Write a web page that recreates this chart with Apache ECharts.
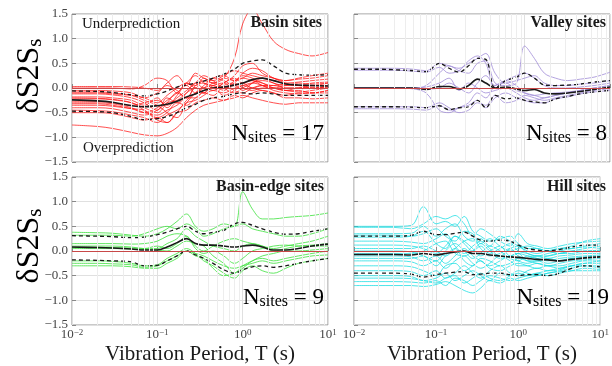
<!DOCTYPE html>
<html><head><meta charset="utf-8">
<script src="https://cdn.jsdelivr.net/npm/echarts@6/dist/echarts.min.js"></script>
<style>html,body{margin:0;padding:0;background:#fff}#c{width:612px;height:366px}</style>
</head><body><div id="c"></div>
<script>
// Periods (s)
const periods = [0.01,0.02,0.03,0.05,0.07,0.1,0.13,0.17,0.22,0.28,0.35,0.45,0.6,0.8,1.0,1.3,1.7,2.3,3.2,4.5,6.5,10];
const yTicks = [-1.5,-1.0,-0.5,0.0,0.5,1.0,1.5];

// Basin sites (17)
const basinSites = [
 [0.03,0.03,0.03,0.02,0.0,-0.05,0.1,0.25,0.05,0.3,0.2,0.15,0.25,0.35,0.3,0.25,0.2,0.15,0.1,0.12,0.15,0.18],
 [0.0,0.0,0.0,-0.02,0.05,0.2,0.15,-0.1,0.1,0.0,0.2,0.1,0.2,0.15,0.3,0.4,0.35,0.2,0.15,0.2,0.25,0.3],
 [-0.05,-0.05,-0.06,-0.1,-0.2,-0.1,0.05,-0.05,-0.2,0.05,0.1,0.0,0.1,0.25,0.45,0.5,0.3,0.2,0.1,0.05,0.05,0.1],
 [-0.1,-0.1,-0.12,-0.15,-0.2,-0.3,-0.15,0.0,0.1,0.05,0.15,0.1,0.2,0.6,1.3,1.6,1.3,0.95,0.78,0.7,0.65,0.72],
 [-0.12,-0.12,-0.14,-0.2,-0.3,-0.45,-0.2,-0.3,-0.1,0.1,0.0,0.2,0.15,0.05,0.1,0.0,0.05,0.05,0.0,0.0,0.02,0.0],
 [-0.18,-0.18,-0.2,-0.25,-0.35,-0.2,-0.4,-0.15,0.05,-0.1,0.0,0.05,-0.05,0.15,0.2,0.15,0.1,0.0,-0.05,-0.05,-0.1,-0.05],
 [-0.22,-0.22,-0.24,-0.3,-0.4,-0.5,-0.3,-0.1,-0.2,0.0,-0.1,0.1,0.0,0.05,-0.05,0.1,0.2,0.1,0.05,0.05,0.0,0.05],
 [-0.27,-0.27,-0.3,-0.35,-0.3,-0.25,-0.35,-0.2,-0.05,0.1,0.25,0.15,0.0,-0.1,0.0,0.1,0.15,0.1,0.0,0.0,0.05,0.05],
 [-0.3,-0.3,-0.32,-0.4,-0.5,-0.55,-0.45,-0.35,-0.2,-0.2,-0.05,0.0,-0.15,-0.05,0.05,0.0,-0.05,-0.1,-0.15,-0.1,-0.1,-0.05],
 [-0.35,-0.35,-0.37,-0.42,-0.45,-0.6,-0.5,-0.3,-0.35,-0.2,-0.1,-0.15,0.05,0.1,0.0,-0.05,0.0,0.0,-0.05,0.0,0.0,0.02],
 [-0.45,-0.46,-0.48,-0.55,-0.6,-0.7,-0.55,-0.45,-0.3,-0.25,-0.15,-0.05,-0.1,0.0,0.05,0.1,0.05,-0.05,-0.1,-0.12,-0.1,-0.1],
 [-0.5,-0.5,-0.52,-0.6,-0.65,-0.6,-0.7,-0.5,-0.45,-0.3,-0.25,-0.2,-0.25,-0.15,-0.2,-0.1,-0.05,-0.1,-0.2,-0.2,-0.22,-0.2],
 [-0.75,-0.78,-0.82,-0.9,-0.95,-0.97,-0.92,-0.8,-0.6,-0.45,-0.35,-0.3,-0.25,-0.2,-0.15,-0.2,-0.25,-0.3,-0.33,-0.3,-0.3,-0.3],
 [-0.08,-0.08,-0.1,-0.15,-0.25,-0.35,-0.5,-0.6,-0.3,-0.1,0.05,0.2,0.25,0.15,0.2,0.3,0.25,0.2,0.15,0.18,0.2,0.25],
 [-0.2,-0.21,-0.23,-0.3,-0.45,-0.65,-0.7,-0.5,-0.25,-0.1,0.0,-0.05,0.1,0.2,0.1,0.15,0.05,0.0,0.05,0.1,0.08,0.1],
 [-0.4,-0.4,-0.42,-0.5,-0.55,-0.45,-0.3,-0.25,-0.1,0.0,-0.1,0.05,0.1,-0.05,-0.1,0.0,0.05,0.0,-0.05,-0.08,-0.05,0.0],
 [-0.32,-0.32,-0.35,-0.42,-0.5,-0.4,-0.25,-0.1,0.1,0.25,0.1,0.05,0.0,0.1,0.25,0.2,0.1,0.05,0.08,0.05,0.1,0.12]
];
const basinMean  = [-0.24,-0.26,-0.29,-0.36,-0.38,-0.36,-0.33,-0.27,-0.18,-0.12,-0.05,0.0,0.02,0.06,0.1,0.17,0.2,0.15,0.08,0.06,0.05,0.04];
const basinUpper = [-0.06,-0.07,-0.09,-0.14,-0.16,-0.12,-0.06,0.02,0.06,0.1,0.14,0.2,0.28,0.38,0.5,0.55,0.57,0.45,0.3,0.27,0.26,0.27];
const basinLower = [-0.47,-0.48,-0.5,-0.58,-0.64,-0.62,-0.58,-0.5,-0.4,-0.33,-0.25,-0.2,-0.17,-0.12,-0.1,-0.12,-0.1,-0.12,-0.15,-0.15,-0.15,-0.15];

// Valley sites (8)
const valleySites = [
 [0.4,0.4,0.4,0.38,0.35,0.5,0.45,0.4,0.5,0.6,0.7,0.3,0.1,0.15,0.2,0.25,0.1,0.05,0.05,0.08,0.1,0.15],
 [0.36,0.36,0.36,0.34,0.32,0.42,0.3,0.35,0.55,0.65,0.5,0.0,0.15,0.25,0.3,0.2,0.05,0.0,0.0,0.02,0.05,0.1],
 [-0.42,-0.42,-0.42,-0.43,-0.45,-0.35,-0.45,-0.4,-0.35,-0.25,-0.4,-0.2,-0.1,-0.2,-0.25,-0.3,-0.3,-0.22,-0.18,-0.12,-0.08,-0.05],
 [-0.38,-0.38,-0.38,-0.38,-0.4,-0.3,-0.4,-0.5,-0.45,-0.3,-0.35,-0.15,-0.3,-0.25,-0.15,-0.2,-0.25,-0.2,-0.15,-0.1,-0.05,-0.02],
 [0,0,0,0,0.05,0.3,0.45,0.35,0.3,0.5,0.55,0.1,0.05,0.1,0.85,0.6,0.3,0.2,0.15,0.18,0.22,0.32],
 [0,0,0,-0.02,-0.1,-0.45,-0.5,-0.4,-0.3,-0.1,-0.2,0.05,0.1,-0.05,-0.1,-0.15,-0.2,-0.15,-0.1,-0.05,0.0,0.05],
 [0,0,0,0,-0.02,0.0,0.1,0.0,-0.1,0.1,0.25,0.05,0.15,0.05,-0.1,-0.15,-0.12,-0.1,-0.08,-0.05,-0.02,0.0],
 [0,0,0,0,0.02,0.1,0.2,-0.05,0.1,0.0,-0.1,-0.05,0.0,-0.1,-0.2,-0.25,-0.2,-0.15,-0.1,-0.05,0.0,0.05]
];
const valleyMean  = [0,0,0,0,-0.03,0.03,0.03,-0.02,0.05,0.18,0.1,0.0,0.02,-0.02,-0.05,-0.03,-0.1,-0.12,-0.1,-0.07,-0.03,0.02];
const valleyUpper = [0.38,0.38,0.37,0.35,0.33,0.5,0.4,0.32,0.45,0.6,0.58,0.0,0.15,0.22,0.3,0.2,0.06,0.05,0.06,0.08,0.12,0.15];
const valleyLower = [-0.38,-0.38,-0.38,-0.39,-0.4,-0.36,-0.44,-0.4,-0.38,-0.25,-0.4,-0.15,-0.22,-0.2,-0.25,-0.28,-0.3,-0.22,-0.17,-0.12,-0.08,-0.05];

// Basin-edge sites (9)
const edgeSites = [
 [0.38,0.37,0.36,0.32,0.3,0.35,0.45,0.6,0.75,0.5,0.4,0.45,0.55,0.5,1.2,0.85,0.65,0.65,0.68,0.7,0.72,0.77],
 [0.32,0.32,0.32,0.3,0.35,0.45,0.5,0.45,0.55,0.45,0.3,0.35,0.45,0.5,0.55,0.45,0.4,0.35,0.3,0.3,0.35,0.45],
 [0.15,0.15,0.15,0.14,0.15,0.2,0.3,0.35,0.3,0.1,0.0,0.1,0.2,0.25,0.2,0.15,0.1,0.05,0.1,0.15,0.2,0.3],
 [0.1,0.1,0.1,0.08,0.05,0.05,0.15,0.25,0.45,0.3,0.2,0.1,0.05,0.0,0.1,0.15,0.1,0.0,0.05,0.1,0.12,0.15],
 [0.05,0.05,0.05,0.04,0.03,0.02,0.0,0.1,0.2,0.15,0.1,-0.1,-0.25,-0.45,-0.3,-0.2,-0.1,-0.05,0.0,0.0,0.02,0.05],
 [0.07,0.07,0.07,0.06,0.05,0.1,0.05,0.15,0.3,0.05,-0.05,0.0,-0.1,-0.25,-0.15,0.0,0.05,0.1,0.12,0.1,0.1,0.1],
 [-0.2,-0.2,-0.21,-0.25,-0.3,-0.28,-0.15,-0.05,0.05,-0.05,-0.2,-0.3,-0.45,-0.55,-0.4,-0.3,-0.4,-0.45,-0.35,-0.25,-0.2,-0.15],
 [-0.25,-0.25,-0.26,-0.28,-0.33,-0.3,-0.2,-0.1,0.0,-0.1,-0.15,-0.35,-0.5,-0.45,-0.35,-0.2,-0.15,-0.2,-0.15,-0.1,-0.05,0.0],
 [-0.3,-0.3,-0.3,-0.32,-0.35,-0.35,-0.25,-0.15,0.0,-0.05,-0.1,-0.2,-0.3,-0.35,-0.3,-0.25,-0.2,-0.25,-0.2,-0.15,-0.1,-0.08]
];
const edgeMean  = [0.08,0.07,0.06,0.04,0.02,0.02,0.08,0.17,0.25,0.15,0.12,0.12,0.1,0.08,0.1,0.12,0.08,0.02,0.02,0.05,0.1,0.14];
const edgeUpper = [0.31,0.3,0.29,0.27,0.28,0.33,0.38,0.45,0.5,0.4,0.35,0.38,0.42,0.55,0.58,0.52,0.45,0.38,0.34,0.35,0.4,0.45];
const edgeLower = [-0.18,-0.19,-0.2,-0.22,-0.3,-0.29,-0.2,-0.1,0.0,-0.08,-0.15,-0.25,-0.38,-0.45,-0.38,-0.32,-0.3,-0.33,-0.3,-0.25,-0.2,-0.15];

// Hill sites (19)
const hillSites = [
 [0.5,0.5,0.5,0.52,0.9,0.55,0.6,0.5,0.7,0.4,0.3,0.2,0.25,0.3,0.15,0.05,0.05,0.0,0.05,0.1,0.2,0.25],
 [0.48,0.48,0.48,0.45,0.55,0.7,0.65,0.72,0.55,0.3,0.45,0.35,0.2,0.1,0.35,0.15,0.1,0.05,0.1,0.15,0.18,0.2],
 [0.35,0.35,0.35,0.36,0.5,0.3,0.45,0.55,0.3,0.2,0.25,0.1,0.3,0.2,0.1,0.0,-0.05,0.0,0.05,0.05,0.1,0.15],
 [0.32,0.32,0.32,0.3,0.35,0.45,0.3,0.2,0.4,0.35,0.15,0.25,0.1,0.0,0.05,0.1,0.05,0.0,-0.05,0.0,0.05,0.1],
 [0.28,0.28,0.28,0.3,0.4,0.15,0.05,0.3,0.15,0.0,0.1,-0.05,0.05,0.15,0.0,-0.05,-0.1,-0.05,0.0,0.05,0.08,0.05],
 [0.2,0.2,0.2,0.18,0.15,0.25,0.35,0.1,-0.05,0.1,0.2,0.05,-0.1,0.05,0.1,-0.05,-0.1,-0.1,-0.05,0.0,0.0,0.02],
 [0.12,0.12,0.12,0.1,0.05,-0.05,0.1,0.3,0.2,0.05,-0.1,0.0,0.1,-0.1,-0.05,-0.1,-0.15,-0.1,-0.05,-0.05,0.0,0.0],
 [0.05,0.05,0.05,0.05,0.1,0.0,-0.1,0.05,0.2,0.25,0.05,-0.1,-0.05,0.05,-0.1,-0.15,-0.1,-0.15,-0.1,-0.08,-0.05,-0.05],
 [0.0,0.0,0.0,-0.02,-0.1,-0.2,0.0,0.15,0.0,-0.15,-0.05,0.1,0.0,-0.15,-0.2,-0.1,-0.15,-0.2,-0.15,-0.12,-0.1,-0.08],
 [-0.05,-0.05,-0.05,-0.05,0.0,0.15,0.2,-0.05,-0.1,0.0,0.15,0.0,-0.15,-0.1,-0.05,-0.2,-0.2,-0.15,-0.2,-0.15,-0.12,-0.1],
 [-0.1,-0.1,-0.1,-0.12,-0.2,-0.1,-0.25,-0.1,0.05,-0.1,-0.2,-0.3,-0.2,-0.1,-0.2,-0.25,-0.2,-0.25,-0.2,-0.15,-0.15,-0.12],
 [-0.15,-0.15,-0.15,-0.15,-0.1,-0.3,-0.1,0.05,-0.2,-0.3,-0.15,-0.2,-0.3,-0.25,-0.15,-0.2,-0.25,-0.3,-0.25,-0.2,-0.18,-0.15],
 [-0.2,-0.2,-0.2,-0.22,-0.3,-0.2,-0.35,-0.2,-0.1,-0.25,-0.35,-0.25,-0.1,-0.2,-0.3,-0.3,-0.25,-0.3,-0.35,-0.3,-0.25,-0.2],
 [-0.3,-0.3,-0.3,-0.32,-0.4,-0.5,-0.3,-0.25,-0.4,-0.3,-0.2,-0.35,-0.4,-0.3,-0.25,-0.3,-0.35,-0.3,-0.3,-0.25,-0.2,-0.2],
 [-0.4,-0.4,-0.4,-0.42,-0.5,-0.4,-0.55,-0.45,-0.3,-0.45,-0.55,-0.4,-0.3,-0.45,-0.5,-0.4,-0.35,-0.4,-0.38,-0.3,-0.25,-0.25],
 [-0.5,-0.5,-0.5,-0.52,-0.6,-0.55,-0.45,-0.6,-0.5,-0.4,-0.5,-0.6,-0.45,-0.5,-0.45,-0.5,-0.45,-0.4,-0.35,-0.3,-0.3,-0.3],
 [-0.55,-0.55,-0.55,-0.56,-0.6,-0.65,-0.55,-0.5,-0.65,-0.55,-0.45,-0.55,-0.6,-0.5,-0.4,-0.45,-0.5,-0.45,-0.4,-0.35,-0.3,-0.35],
 [-0.62,-0.62,-0.62,-0.63,-0.65,-0.6,-0.7,-0.55,-0.6,-0.7,-0.6,-0.5,-0.55,-0.6,-0.55,-0.5,-0.45,-0.5,-0.45,-0.4,-0.35,-0.38],
 [-0.7,-0.7,-0.7,-0.7,-0.72,-0.68,-0.62,-0.7,-0.8,-0.85,-0.75,-0.6,-0.65,-0.55,-0.6,-0.55,-0.5,-0.45,-0.42,-0.4,-0.4,-0.4]
];
const hillMean  = [-0.07,-0.07,-0.07,-0.08,-0.05,-0.08,-0.05,-0.02,0.0,-0.05,-0.05,-0.08,-0.1,-0.12,-0.13,-0.15,-0.17,-0.18,-0.2,-0.17,-0.14,-0.12];
const hillUpper = [0.3,0.3,0.3,0.32,0.4,0.33,0.33,0.36,0.38,0.3,0.22,0.2,0.22,0.2,0.12,0.05,0.02,0.0,0.03,0.08,0.12,0.12];
const hillLower = [-0.45,-0.45,-0.45,-0.47,-0.53,-0.48,-0.45,-0.43,-0.42,-0.48,-0.47,-0.45,-0.45,-0.48,-0.5,-0.48,-0.48,-0.5,-0.45,-0.35,-0.3,-0.32];

const panelTitles = ['Basin sites','Valley sites','Basin-edge sites','Hill sites'];
const siteCounts = [17, 8, 9, 19];

const FONT = 'Liberation Serif';
const chart = echarts.init(document.getElementById('c'), null, {renderer:'canvas'});

const grids = [
  {left:72, top:14, width:256, height:148},
  {left:354, top:14, width:256, height:148},
  {left:72, top:177, width:256, height:148},
  {left:354, top:177, width:256, height:148}
].map(g => Object.assign(g, {show:true, borderColor:'#939393', borderWidth:1, backgroundColor:'rgba(0,0,0,0)', containLabel:false}));

function supLabel(v){
  const e = Math.round(Math.log10(v));
  return '{b|10}{s|' + (e < 0 ? '\u2212' + (-e) : e) + '}';
}
const xAxes = grids.map((g,i) => ({
  type:'log', logBase:10, gridIndex:i, min:0.01, max:10,
  axisLine:{show:false},
  axisTick:{show:true, inside:true, length:4, lineStyle:{color:'#888'}},
  splitLine:{show:true, lineStyle:{color:'#e0e0e0', width:1}},
  axisLabel:{show: i >= 2, margin:3, showMinLabel:true, showMaxLabel:true, formatter: supLabel,
    rich:{ b:{fontFamily:FONT, fontSize:13, color:'#444', lineHeight:14},
           s:{fontFamily:FONT, fontSize:9, color:'#444', lineHeight:8, verticalAlign:'top'} } }
}));
const yAxes = grids.map((g,i) => ({
  type:'value', gridIndex:i, min:-1.5, max:1.5, interval:0.5,
  axisLine:{show:false},
  axisTick:{show:true, inside:true, length:4, lineStyle:{color:'#888'}},
  splitLine:{show:true, lineStyle:{color:'#e0e0e0', width:1}},
  axisLabel:{show: i % 2 === 0, margin:4, fontFamily:FONT, fontSize:13, color:'#444',
    formatter: v => (v < 0 ? '\u2212' : '') + Math.abs(v).toFixed(1)}
}));

// minor log grid positions (2..9 per decade)
const minorX = [];
[0.01,0.1,1].forEach(d => { for (let k=2;k<=9;k++) minorX.push(+(d*k).toPrecision(3)); });

const panels = [
  {sites:basinSites, mean:basinMean, up:basinUpper, lo:basinLower, color:'rgba(255,20,20,0.75)'},
  {sites:valleySites, mean:valleyMean, up:valleyUpper, lo:valleyLower, color:'rgba(160,140,215,0.8)'},
  {sites:edgeSites, mean:edgeMean, up:edgeUpper, lo:edgeLower, color:'rgba(60,225,60,0.8)'},
  {sites:hillSites, mean:hillMean, up:hillUpper, lo:hillLower, color:'rgba(20,220,225,0.75)'}
];
const pair = arr => periods.map((t,k) => [t, arr[k]]);
const series = [];
panels.forEach((p, i) => {
  series.push({type:'line', xAxisIndex:i, yAxisIndex:i, data:[], silent:true, z:1,
    markLine:{silent:true, symbol:'none', label:{show:false}, animation:false,
      lineStyle:{color:'#ededed', width:1, type:'solid'},
      data: minorX.map(x => ({xAxis:x}))}});
  p.sites.forEach(s => series.push({type:'line', xAxisIndex:i, yAxisIndex:i, data:pair(s),
    showSymbol:false, smooth:0.35, z:2, lineStyle:{color:p.color, width:1}, animation:false}));
  series.push({type:'line', xAxisIndex:i, yAxisIndex:i, data:[], silent:true, z:3,
    markLine:{silent:true, symbol:'none', label:{show:false}, animation:false,
      lineStyle:{color:'#c84848', width:1.2, type:'solid'}, data:[{yAxis:0}]}});
  series.push({type:'line', xAxisIndex:i, yAxisIndex:i, data:pair(p.mean), showSymbol:false, smooth:0.35, z:4,
    lineStyle:{color:'#1a1a1a', width:1.6}, animation:false});
  series.push({type:'line', xAxisIndex:i, yAxisIndex:i, data:pair(p.up), showSymbol:false, smooth:0.35, z:4,
    lineStyle:{color:'#1a1a1a', width:1.3, type:[4,3]}, animation:false});
  series.push({type:'line', xAxisIndex:i, yAxisIndex:i, data:pair(p.lo), showSymbol:false, smooth:0.35, z:4,
    lineStyle:{color:'#1a1a1a', width:1.3, type:[4,3]}, animation:false});
});

const txt = (o) => Object.assign({type:'text', z:100, silent:true}, o);
const st = (text, size, weight, align) => ({text, fontFamily:FONT, fontSize:size, fontWeight:weight, fill:'#1a1a1a', align, verticalAlign:'middle'});
const nRich = { n:{fontFamily:FONT, fontSize:23, color:'#222', lineHeight:24},
                s:{fontFamily:FONT, fontSize:16, color:'#222', lineHeight:14, verticalAlign:'bottom'} };
const yRich = { a:{fontFamily:FONT, fontSize:32, color:'#222', lineHeight:32},
                s:{fontFamily:FONT, fontSize:21, color:'#222', lineHeight:18, verticalAlign:'bottom'} };
const graphic = [
  txt({x:82, y:24, style:st('Underprediction', 15, 'normal', 'left')}),
  txt({x:83, y:148, style:st('Overprediction', 15, 'normal', 'left')}),
  txt({x:322, y:23, style:st(panelTitles[0], 16, 'bold', 'right')}),
  txt({x:606, y:23, style:st(panelTitles[1], 16, 'bold', 'right')}),
  txt({x:324, y:187, style:st(panelTitles[2], 16, 'bold', 'right')}),
  txt({x:606, y:187, style:st(panelTitles[3], 16, 'bold', 'right')}),
  txt({x:324, y:134, style:{text:'{n|N}{s|sites}{n| = '+siteCounts[0]+'}', rich:nRich, align:'right', verticalAlign:'middle'}}),
  txt({x:607, y:134, style:{text:'{n|N}{s|sites}{n| = '+siteCounts[1]+'}', rich:nRich, align:'right', verticalAlign:'middle'}}),
  txt({x:324, y:298, style:{text:'{n|N}{s|sites}{n| = '+siteCounts[2]+'}', rich:nRich, align:'right', verticalAlign:'middle'}}),
  txt({x:609, y:298, style:{text:'{n|N}{s|sites}{n| = '+siteCounts[3]+'}', rich:nRich, align:'right', verticalAlign:'middle'}}),
  txt({x:200, y:354, style:st('Vibration Period, T (s)', 21, 'normal', 'center')}),
  txt({x:482, y:354, style:st('Vibration Period, T (s)', 21, 'normal', 'center')}),
  txt({x:30, y:76, rotation:Math.PI/2, style:{text:'{a|\u03b4S2S}{s|s}', rich:yRich, align:'center', verticalAlign:'middle'}}),
  txt({x:30, y:246, rotation:Math.PI/2, style:{text:'{a|\u03b4S2S}{s|s}', rich:yRich, align:'center', verticalAlign:'middle'}})
];

chart.setOption({
  animation:false,
  backgroundColor:'#fff',
  grid:grids, xAxis:xAxes, yAxis:yAxes, series:series, graphic:graphic
});
</script>
</body></html>
